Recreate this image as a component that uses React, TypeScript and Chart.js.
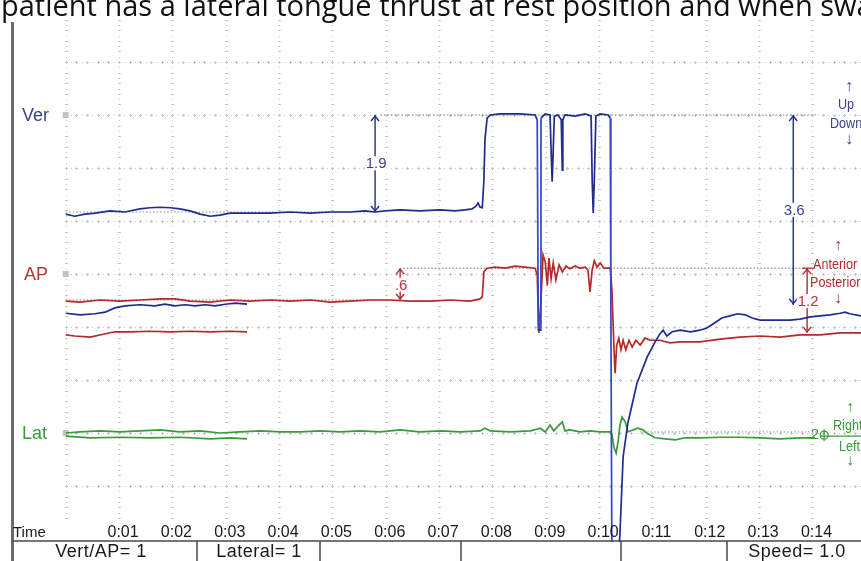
import React, { useEffect, useRef } from "react";
import { Chart, registerables } from "chart.js";

Chart.register(...registerables);

// ---- data (time in s, position in mm on a shared offset axis) ----
const verMainT = [0, 0.17, 0.36, 0.55, 0.83, 1.11, 1.39, 1.58, 1.77, 1.96, 2.14, 2.33, 2.52, 2.71, 2.89, 3.08, 3.46, 3.83, 4.21, 4.58, 4.96, 5.33, 5.61, 5.8, 5.99, 6.27, 6.64, 7.02, 7.3, 7.49, 7.62, 7.69, 7.73, 7.77, 7.81, 7.84, 7.86, 7.9, 7.96, 8.14, 8.52, 8.8, 8.84, 8.86, 8.9, 8.91, 8.99, 9.08, 9.1, 9.12, 9.14, 9.16, 9.23, 9.29, 9.31, 9.32, 9.36, 9.55, 9.74, 9.85, 9.87, 9.89, 9.91, 9.94, 10.02, 10.17, 10.21, 10.22, 10.24, 10.28, 10.34, 10.39, 10.45, 10.54, 10.71, 10.9, 11.05, 11.14, 11.2, 11.27, 11.37, 11.52, 11.71, 11.89, 12.02, 12.17, 12.3, 12.45, 12.6, 12.74, 12.87, 13.02, 13.3, 13.58, 13.77, 13.96, 14.14, 14.33, 14.52, 14.61, 14.7, 14.91];
const verMainV = [5.13, 5.09, 5.13, 5.15, 5.19, 5.17, 5.23, 5.25, 5.26, 5.25, 5.23, 5.19, 5.13, 5.09, 5.11, 5.15, 5.15, 5.15, 5.17, 5.15, 5.17, 5.17, 5.19, 5.17, 5.19, 5.21, 5.19, 5.21, 5.19, 5.21, 5.23, 5.28, 5.34, 5.26, 5.25, 5.77, 6.53, 6.94, 7.0, 7.02, 7.02, 7.0, 6.91, 2.94, 2.94, 6.94, 7.02, 7.0, 6.34, 5.74, 6.34, 6.98, 7.0, 6.91, 5.96, 6.91, 7.0, 6.98, 7.02, 6.98, 5.77, 5.15, 5.77, 6.98, 7.02, 7.0, 6.94, 3.51, -1.42, -1.77, -1.58, -0.92, 0.55, 1.19, 1.94, 2.43, 2.72, 2.87, 2.94, 2.83, 2.91, 2.94, 2.91, 2.94, 2.98, 3.08, 3.17, 3.21, 3.25, 3.23, 3.17, 3.13, 3.13, 3.13, 3.15, 3.19, 3.21, 3.23, 3.26, 3.28, 3.25, 3.21];

const verPrevT = [0, 0.27, 0.55, 0.74, 0.92, 1.11, 1.39, 1.67, 1.86, 2.05, 2.24, 2.42, 2.61, 2.8, 2.99, 3.18, 3.4];
const verPrevV = [3.26, 3.23, 3.25, 3.28, 3.36, 3.4, 3.42, 3.4, 3.43, 3.4, 3.42, 3.4, 3.42, 3.4, 3.43, 3.45, 3.43];

const apMainT = [0, 0.27, 0.64, 1.02, 1.39, 1.77, 2.05, 2.33, 2.71, 3.08, 3.46, 3.83, 4.21, 4.58, 4.96, 5.33, 5.71, 6.08, 6.46, 6.83, 7.21, 7.58, 7.77, 7.81, 7.84, 7.9, 8.05, 8.24, 8.42, 8.61, 8.8, 8.84, 8.87, 8.91, 8.95, 8.99, 9.03, 9.06, 9.1, 9.14, 9.19, 9.25, 9.31, 9.38, 9.45, 9.55, 9.64, 9.74, 9.79, 9.83, 9.87, 9.91, 9.96, 10.02, 10.09, 10.21, 10.24, 10.28, 10.3, 10.33, 10.37, 10.41, 10.45, 10.5, 10.56, 10.62, 10.69, 10.77, 10.86, 10.96, 11.14, 11.33, 11.52, 11.89, 12.27, 12.64, 13.02, 13.39, 13.77, 14.14, 14.52, 14.91];
const apMainV = [3.49, 3.47, 3.51, 3.49, 3.51, 3.53, 3.53, 3.49, 3.47, 3.51, 3.49, 3.51, 3.49, 3.51, 3.47, 3.49, 3.51, 3.51, 3.49, 3.49, 3.51, 3.49, 3.53, 3.57, 4.04, 4.11, 4.13, 4.11, 4.15, 4.13, 4.11, 3.98, 2.89, 3.51, 4.36, 4.23, 3.79, 4.3, 3.91, 4.21, 3.89, 4.17, 4.04, 4.15, 4.1, 4.15, 4.11, 4.13, 4.08, 3.66, 4.08, 4.25, 4.13, 4.21, 4.11, 4.11, 3.7, 2.57, 2.13, 2.66, 2.79, 2.57, 2.75, 2.57, 2.75, 2.62, 2.75, 2.66, 2.79, 2.75, 2.75, 2.7, 2.72, 2.72, 2.77, 2.81, 2.83, 2.81, 2.85, 2.85, 2.89, 2.89];

const apPrevT = [0, 0.17, 0.46, 0.64, 0.92, 1.21, 1.58, 1.96, 2.33, 2.71, 3.08, 3.4];
const apPrevV = [2.85, 2.83, 2.81, 2.85, 2.91, 2.91, 2.92, 2.91, 2.92, 2.91, 2.92, 2.91];

const latMainT = [0, 0.27, 0.64, 1.02, 1.39, 1.77, 2.14, 2.52, 2.89, 3.27, 3.65, 4.02, 4.4, 4.77, 5.14, 5.52, 5.89, 6.27, 6.64, 7.02, 7.4, 7.77, 7.86, 7.96, 8.33, 8.71, 8.9, 8.99, 9.08, 9.15, 9.23, 9.31, 9.36, 9.45, 9.64, 9.83, 10.02, 10.21, 10.24, 10.28, 10.32, 10.36, 10.39, 10.43, 10.49, 10.54, 10.64, 10.73, 10.82, 10.92, 11.05, 11.24, 11.43, 11.61, 11.89, 12.27, 12.64, 13.02, 13.39, 13.77, 14.05];
const latMainV = [1.0, 1.02, 1.04, 1.02, 1.04, 1.06, 1.02, 1.04, 1.0, 1.02, 1.04, 1.02, 1.02, 1.04, 1.02, 1.04, 1.02, 1.06, 1.02, 1.04, 1.02, 1.04, 1.09, 1.04, 1.02, 1.04, 1.09, 1.02, 1.15, 1.04, 1.13, 1.21, 1.04, 1.06, 1.02, 1.04, 1.02, 1.02, 0.98, 0.72, 0.62, 0.87, 1.15, 1.3, 1.21, 1.02, 1.06, 1.09, 1.06, 0.98, 0.91, 0.89, 0.87, 0.91, 0.91, 0.92, 0.92, 0.91, 0.89, 0.91, 0.91];

const latPrevT = [0, 0.46, 1.02, 1.58, 2.14, 2.71, 3.08, 3.4];
const latPrevV = [0.94, 0.91, 0.92, 0.91, 0.92, 0.89, 0.91, 0.89];

// reference (dotted) levels
const refStart = [5.9, 0, 6.33, 0, 10.77];
const refEnd = [14.1, 5.8, 14.05, 6.27, 14.1];
const refLevel = [7.0, 5.17, 4.11, 3.51, 1.02];
const refColor = ["#7d7d8c", "#8a8a8a", "#7a6a6a", "#a07070", "#7a9a7a"];

// measurements
const measT = [5.8, 13.64, 6.27, 13.9];
const measTop = [7.0, 7.0, 4.11, 4.11];
const measBottom = [5.17, 3.42, 3.51, 2.89];
const measText = ["1.9", "3.6", ".6", "1.2"];
const measTextV = [6.09, 5.21, 3.8, 3.49];

const timeTicks = [1, 2, 3, 4, 5, 6, 7, 8, 9, 10, 11, 12, 13, 14];
const timeLabels = ["0:01", "0:02", "0:03", "0:04", "0:05", "0:06", "0:07", "0:08", "0:09", "0:10", "0:11", "0:12", "0:13", "0:14"];

const channelNames = ["Ver", "AP", "Lat"];
const channelLevels = [7, 4, 1];

const footerTexts = ["Vert/AP= 1", "Lateral= 1", "Speed= 1.0"];

const BLUE = "#1f2b8f";
const BLUE_JUMP = "#3346c8";
const RED = "#b42a2a";
const GREEN = "#3c9a3c";
const LBL_BLUE = "#3b3f8e";
const LBL_RED = "#b83434";
const LBL_GREEN = "#3a9a3a";
const channelColors = [LBL_BLUE, LBL_RED, LBL_GREEN];
const measColors = [BLUE, BLUE, RED, RED];

const pts = (ts: number[], vs: number[]) => ts.map((t, i) => ({ x: t, y: vs[i] }));

const FONT = '"Liberation Sans", Arial, sans-serif';

const drawPlugin = {
  id: "jawTrackerDecor",
  beforeDatasetsDraw(chart: any) {
    const { ctx, scales } = chart;
    const x = scales.x;
    const y = scales.y;
    ctx.save();
    ctx.fillStyle = "#6a6a6a";
    ctx.fillRect(11, 22, 3, 539);
    ctx.fillStyle = "#c4c4c4";
    for (let t = 0; t <= 14; t++) {
      const px = Math.round(x.getPixelForValue(t));
      for (let k = -6; k <= 88; k++) {
        const py = Math.round(y.getPixelForValue(k / 10));
        if (k % 2 === 0) ctx.fillRect(px - 1, py, 3, 1);
        else ctx.fillRect(px, py, 1, 1);
      }
    }
    for (let v = 0; v <= 8; v++) {
      const py = Math.round(y.getPixelForValue(v));
      for (let k = 0; k <= 150; k++) {
        const px = Math.round(x.getPixelForValue(k / 10));
        if (k % 2 === 0) {
          ctx.fillRect(px - 1, py, 3, 1);
          ctx.fillRect(px, py - 1, 1, 3);
        } else ctx.fillRect(px, py, 1, 1);
      }
    }
    channelLevels.forEach((lv) => {
      const px = x.getPixelForValue(0);
      const py = y.getPixelForValue(lv);
      ctx.fillRect(px - 3, py - 3, 6, 6);
    });
    ctx.restore();
  },
  afterDatasetsDraw(chart: any) {
    const { ctx, scales } = chart;
    const x = scales.x;
    const y = scales.y;
    ctx.save();
    measT.forEach((t, i) => {
      const px = x.getPixelForValue(t);
      const top = y.getPixelForValue(measTop[i]);
      const bot = y.getPixelForValue(measBottom[i]);
      ctx.strokeStyle = measColors[i];
      ctx.lineWidth = 1.4;
      ctx.beginPath();
      ctx.moveTo(px - 4, top + 6);
      ctx.lineTo(px, top + 1);
      ctx.lineTo(px + 4, top + 6);
      ctx.moveTo(px - 4, bot - 6);
      ctx.lineTo(px, bot - 1);
      ctx.lineTo(px + 4, bot - 6);
      ctx.stroke();
    });
    ctx.font = "15px " + FONT;
    ctx.textAlign = "center";
    ctx.textBaseline = "middle";
    measText.forEach((s, i) => {
      const px = x.getPixelForValue(measT[i]) + 1;
      const py = y.getPixelForValue(measTextV[i]);
      const w = ctx.measureText(s).width;
      ctx.fillStyle = "#ffffff";
      ctx.fillRect(px - w / 2 - 1, py - 7, w + 2, 14);
      ctx.fillStyle = i < 2 ? LBL_BLUE : LBL_RED;
      ctx.fillText(s, px, py + 1);
    });
    {
      const px = x.getPixelForValue(14.05);
      const py = y.getPixelForValue(0.96);
      ctx.fillStyle = LBL_GREEN;
      ctx.textAlign = "right";
      ctx.fillText(".2", px + 4, py);
      ctx.strokeStyle = LBL_GREEN;
      ctx.lineWidth = 1.2;
      ctx.beginPath();
      ctx.arc(px + 9, py, 4, 0, Math.PI * 2);
      ctx.moveTo(px + 9, py - 6);
      ctx.lineTo(px + 9, py + 6);
      ctx.moveTo(px + 5, py + 1);
      ctx.lineTo(861, py + 1);
      ctx.stroke();
    }
    ctx.font = "18px " + FONT;
    ctx.textAlign = "left";
    ctx.textBaseline = "middle";
    channelNames.forEach((n, i) => {
      ctx.fillStyle = channelColors[i];
      ctx.fillText(n, i === 1 ? 24 : 22, y.getPixelForValue(channelLevels[i]) + 1);
    });
    // direction legends (condensed text)
    const dir = (lines: string[], xs: number[], vs: number[], col: string) => {
      ctx.fillStyle = col;
      lines.forEach((s, i) => {
        ctx.save();
        ctx.translate(xs[i], y.getPixelForValue(vs[i]));
        if (s.length > 1) ctx.scale(0.84, 1);
        ctx.font = (s.length === 1 ? "bold 16px " : "15px ") + FONT;
        ctx.textAlign = s.length === 1 ? "center" : "left";
        ctx.fillText(s, 0, 0);
        ctx.restore();
      });
    };
    dir(["↑", "Up", "Down", "↓"], [849, 838, 830, 849], [7.53, 7.2, 6.83, 6.53], LBL_BLUE);
    dir(["↑", "Anterior", "Posterior", "↓"], [838, 813, 810, 838], [4.53, 4.17, 3.83, 3.53], RED);
    dir(["↑", "Right", "Left", "↓"], [850, 833, 839, 850], [1.48, 1.13, 0.73, 0.48], LBL_GREEN);
    ctx.strokeStyle = RED;
    ctx.lineWidth = 1.2;
    ctx.beginPath();
    const bx = x.getPixelForValue(13.9);
    const by = y.getPixelForValue(4.11);
    ctx.moveTo(bx - 5, by);
    ctx.lineTo(bx + 6, by);
    ctx.stroke();
    ctx.fillStyle = "#1a1a1a";
    ctx.font = "16px " + FONT;
    ctx.textAlign = "center";
    ctx.textBaseline = "middle";
    timeTicks.forEach((t, i) => {
      ctx.fillText(timeLabels[i], x.getPixelForValue(t) + 4, 533);
    });
    ctx.textAlign = "left";
    ctx.font = "15px " + FONT;
    ctx.fillText("Time", 13, 533);
    ctx.fillStyle = "#ffffff";
    ctx.fillRect(14, 542, 847, 19);
    ctx.strokeStyle = "#4a4a4a";
    ctx.lineWidth = 1.5;
    ctx.beginPath();
    ctx.moveTo(12, 541);
    ctx.lineTo(861, 541);
    [197, 320, 461, 621, 727].forEach((px) => {
      ctx.moveTo(px, 541);
      ctx.lineTo(px, 561);
    });
    ctx.stroke();
    ctx.fillStyle = "#1a1a1a";
    ctx.font = "18px " + FONT;
    ctx.textAlign = "center";
    (ctx as any).letterSpacing = "0.5px";
    ctx.fillText(footerTexts[0], 101, 552);
    ctx.fillText(footerTexts[1], 259, 552);
    ctx.fillText(footerTexts[2], 797, 552);
    ctx.restore();
  },
};

export default function App() {
  const ref = useRef<HTMLCanvasElement | null>(null);
  useEffect(() => {
    if (!ref.current) return;
    const line = (data: any, color: string, width = 1.7, dash: number[] = []) => ({
      data,
      borderColor: color,
      borderWidth: width,
      borderDash: dash,
      pointRadius: 0,
      fill: false,
      tension: 0,
    });
    const verMain: any = line(pts(verMainT, verMainV), BLUE);
    verMain.segment = {
      borderColor: (c: any) => (Math.abs(c.p1.parsed.y - c.p0.parsed.y) > 2.5 ? BLUE_JUMP : BLUE),
    };
    const datasets: any[] = [
      verMain,
      line(pts(verPrevT, verPrevV), BLUE),
      ...measT.map((t, i) => line([{ x: t, y: measTop[i] }, { x: t, y: measBottom[i] }], measColors[i], 1.4)),
      line(pts(apMainT, apMainV), RED),
      line(pts(apPrevT, apPrevV), RED),
      line(pts(latMainT, latMainV), GREEN),
      line(pts(latPrevT, latPrevV), GREEN),
      ...refStart.map((s, i) => line([{ x: s, y: refLevel[i] }, { x: refEnd[i], y: refLevel[i] }], refColor[i], 1, [1.5, 2])),
    ];
    const chart = new Chart(ref.current, {
      type: "line",
      data: { datasets },
      options: {
        animation: false,
        responsive: false,
        devicePixelRatio: 1,
        layout: { padding: { left: 12, top: 22, right: 0, bottom: 0 } },
        plugins: { legend: { display: false }, tooltip: { enabled: false } },
        scales: {
          x: { type: "linear", min: -1.007, max: 14.91, display: false },
          y: { type: "linear", min: -1.415, max: 8.755, display: false },
        },
      },
      plugins: [drawPlugin],
    } as any);
    return () => chart.destroy();
  }, []);
  return (
    <div style={{ position: "fixed", left: 0, top: 0, width: 861, height: 561, background: "#fff", overflow: "hidden" }}>
      <canvas ref={ref} width={861} height={561} style={{ position: "absolute", left: 0, top: 0 }} />
      <div
        style={{
          position: "absolute",
          left: 1,
          top: -10,
          whiteSpace: "nowrap",
          fontFamily: '"Open Sans", sans-serif',
          fontSize: 29,
          lineHeight: "29px",
          color: "#111",
        }}
      >
        patient has a lateral tongue thrust at rest position and when swallowing
      </div>
    </div>
  );
}
